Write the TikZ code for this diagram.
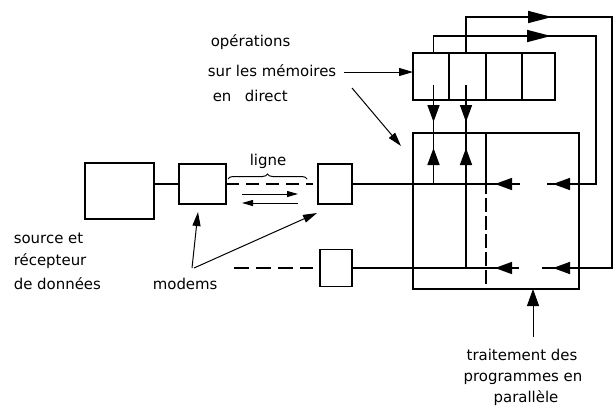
\documentclass[tikz,border=0pt]{standalone}
\usepackage{fontspec}
\setmainfont{DejaVu Sans}
\usetikzlibrary{arrows.meta,decorations.pathreplacing}
\begin{document}
\begin{tikzpicture}[x=1bp,y=-1bp,line width=1.6bp]
\tikzset{
 blk/.style 2 args={draw,inner sep=0pt,outer sep=0pt,minimum width=#1,minimum height=#2},
 bigtip/.style={-{Triangle[length=17bp,width=12bp]}},
 longtip/.style={-{Triangle[length=24bp,width=12bp]}},
 thinline/.style={line width=1bp},
 smalltip/.style={-{Triangle[length=11bp,width=6bp]}},
 midtip/.style={-{Triangle[length=14bp,width=8bp]}},
 lbl/.style={inner sep=0pt,font=\fontsize{15}{18}\selectfont},
}
\useasboundingbox (0,0) rectangle (614,412);
% blocks
\node[blk={69bp}{56bp}] (src) at (119.5,191) {};
\node[blk={47bp}{40bp}] (m1) at (202.5,184) {};
\node[blk={34bp}{40bp}] (m2) at (335,184) {};
\node[blk={32bp}{37bp}] (m3) at (336,268) {};
\node[blk={166bp}{156bp}] (proc) at (496,211) {};
\node[blk={36bp}{47bp}] (c1) at (431,76.5) {};
\node[blk={37bp}{47bp}] (c2) at (467.5,76.5) {};
\node[blk={36bp}{47bp}] (c3) at (504,76.5) {};
\node[blk={33bp}{47bp}] (c4) at (538.5,76.5) {};
% coordinates
\coordinate (xA) at (433.5,0);
\coordinate (xB) at (466,0);
\coordinate (xD) at (486,0);
\coordinate (xR1) at (596,0);
\coordinate (xR2) at (612,0);
\coordinate (yT1) at (0,36);
\coordinate (yT2) at (0,17);
\coordinate (yIn) at (0,85);
% divider
\draw (proc.north -| xD) -- (486,180);
\draw[dash pattern=on 14bp off 4bp] (486,180) -- (proc.south -| xD);
% source to modem
\draw (m1.west) -- (m1.west -| src.east);
\draw[dash pattern=on 13bp off 7bp] (m1.east) -- (313,184);
\draw[thinline,decorate,decoration={brace,amplitude=5bp}] (228,179) -- (307,179);
\node[lbl,anchor=base] (ligne) at (268,165) {ligne};
\draw[thinline,smalltip] (242,194) -- (298,194);
\draw[thinline,smalltip] (298,203) -- (242,203);
\coordinate (dl) at (234,268);
\draw[dash pattern=on 15bp off 7bp] (dl) -- (313,268);
% upper horizontal
\draw (m2.east) -- (520,184);
\draw[bigtip] (520,184) -- (495,184);
% lower horizontal
\draw (m3.east) -- (519,268);
\draw[bigtip] (519,268) -- (495,268);
% inner loop
\draw (c1.north -| xA) -- (xA |- yT1) -- (xR1 |- yT1) -- (xR1 |- m2.east) -- (547,184);
\draw[longtip] (520,36) -- (551,36);
\draw[bigtip] (596,184) -- (553,184);
% outer loop
\draw (c2.north -| xB) -- (xB |- yT2) -- (xR2 |- yT2) -- (xR2 |- m3.east) -- (542,268);
\draw[longtip] (520,17) -- (552,17);
\draw[bigtip] (612,268) -- (553,268);
% vertical wires
\draw (xA |- yIn) -- (xA |- m2.east);
\draw[bigtip] (433.5,100) -- (433.5,122);
\draw[bigtip] (433.5,170) -- (433.5,148);
\draw (xB |- yIn) -- (xB |- m3.east);
\draw[bigtip] (466,100) -- (466,122);
\draw[bigtip] (466,170) -- (466,148);
% texts
\node[lbl,anchor=base west] (t1) at (210,46) {opérations};
\node[lbl,anchor=base west] (t2) at (207,76) {sur les mémoires};
\node[lbl,anchor=base west] (t3) at (212,101) {en\hspace{0.9em}direct};
\node[lbl,anchor=base west] (s1) at (13,243) {source et};
\node[lbl,anchor=base west] (s2) at (13,265) {récepteur};
\node[lbl,anchor=base west] (s3) at (13,289) {de données};
\node[lbl,anchor=base west] (mo) at (152,289) {modems};
\node[lbl,anchor=base] (p1) at (522,360) {traitement des};
\node[lbl,anchor=base] (p2) at (523,381) {programmes en};
\node[lbl,anchor=base] (p3) at (526,402) {parallèle};
% pointer arrows
\coordinate (a1) at (344,72);
\draw[thinline,midtip] (a1) -- (a1 -| c1.west);
\coordinate (a2) at (352,88);
\coordinate (a2e) at (401,146);
\draw[thinline,midtip] (a2) -- (a2e);
\coordinate (mA) at (192,268);
\coordinate (mB) at (194,268);
\coordinate (mAe) at (198,212);
\coordinate (mBe) at (317,213);
\draw[thinline,midtip] (mA) -- (mAe);
\draw[thinline,midtip] (mB) -- (mBe);
\coordinate (pu) at (533,337);
\draw[thinline,bigtip] (pu) -- (proc.south -| pu);
\end{tikzpicture}
\end{document}
